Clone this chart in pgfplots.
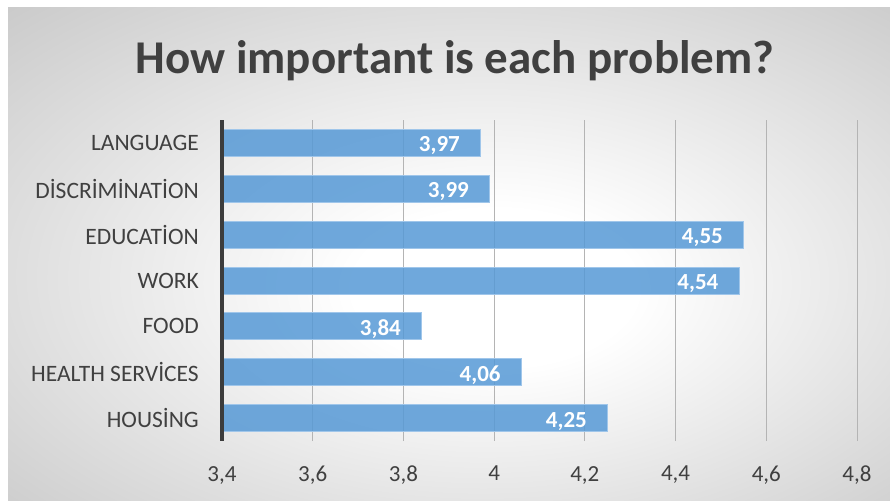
\documentclass[border=0pt]{standalone}
\usepackage{pgfplots}
\pgfplotsset{compat=1.18}
\usepackage{fontspec}
\setmainfont{Carlito}

\definecolor{barblue}{RGB}{86,153,214}
\definecolor{baredge}{RGB}{160,198,234}
\definecolor{textgray}{RGB}{64,64,64}
\definecolor{gridgray}{RGB}{180,180,180}
\definecolor{axisdark}{RGB}{60,60,60}
\definecolor{bgedge}{RGB}{198,198,198}

% soft radial background, lighter towards the lower middle
\pgfdeclareradialshading{chartbg}{\pgfpoint{3bp}{-4bp}}{%
  color(0bp)=(white); color(8bp)=(white); color(40bp)=(bgedge); color(60bp)=(bgedge)}

\begin{document}
\begin{tikzpicture}
  \fill[white] (0pt,0pt) rectangle (890pt,500pt);
  \shade[shading=chartbg] (8pt,0pt) rectangle (890pt,492pt);
  \node[anchor=base, text=textgray, font=\fontsize{47}{56}\selectfont\bfseries]
    at (455pt,426.7pt) {How important is each problem?};

  \begin{axis}[
    name=main,
    at={(222pt,59pt)}, anchor=south west,
    scale only axis, width=635pt, height=321pt,
    xmin=3.4, xmax=4.8, ymin=-0.5, ymax=6.5,
    xtick={3.4,3.6,3.8,4.0,4.2,4.4,4.6,4.8},
    ytick={0,1,2,3,4,5,6},
    yticklabels={HOUSİNG,HEALTH SERVİCES,FOOD,WORK,EDUCATİON,DİSCRİMİNATİON,LANGUAGE},
    axis line style={draw=none},
    major tick length=0pt,
    xmajorgrids,
    grid style={gridgray, line width=1pt},
    xticklabel style={font=\fontsize{23}{27}\selectfont, text=textgray,
      inner sep=0pt, anchor=north, yshift=-25pt,
      /pgf/number format/.cd, use comma, fixed, precision=1, assume math mode=true},
    yticklabel style={font=\fontsize{23.5}{28}\selectfont, text=textgray,
      inner sep=0pt, anchor=east, xshift=-23pt},
    xbar, bar width=27pt,
    nodes near coords,
    every node near coord/.append style={anchor=east, xshift=-17pt, yshift=-3pt,
      font=\fontsize{23}{27}\selectfont\bfseries, text=white,
      text opacity=1, fill opacity=1,
      /pgf/number format/.cd, use comma, fixed, fixed zerofill, precision=2,
      assume math mode=true},
  ]
    \addplot[fill=barblue, fill opacity=0.85, draw=baredge, line width=0.8pt,
      point meta=x]
      coordinates {(4.25,0) (4.06,1) (3.84,2) (4.54,3) (4.55,4) (3.99,5) (3.97,6)};
  \end{axis}
  % vertical category axis
  \draw[axisdark, line width=4pt] (main.south west) -- (main.north west);
\end{tikzpicture}
\end{document}
